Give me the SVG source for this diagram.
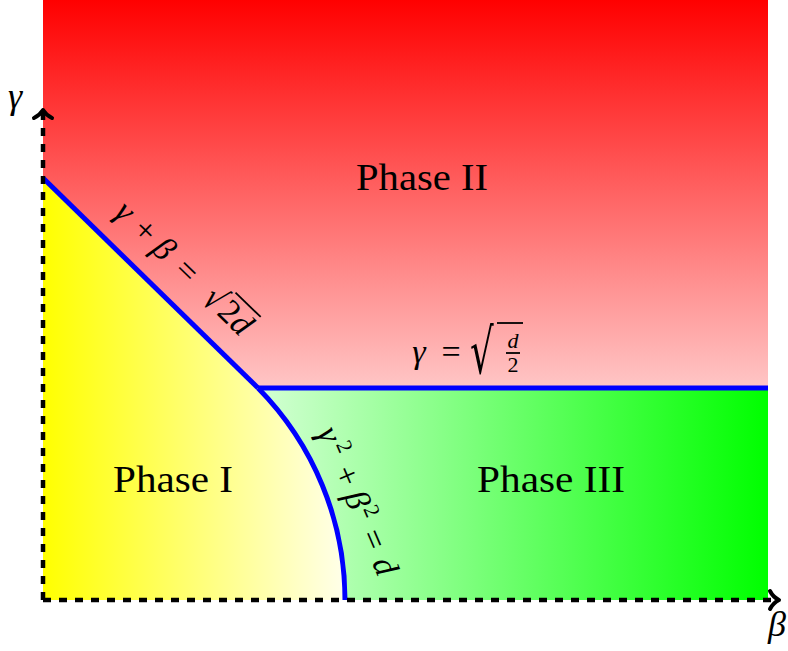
<svg xmlns="http://www.w3.org/2000/svg" width="788" height="651" viewBox="0 0 788 651">
<defs>
<linearGradient id="gRed" x1="0" y1="0" x2="0" y2="1">
<stop offset="0" stop-color="#ff0000"/>
<stop offset="1" stop-color="#ffc6c6"/>
</linearGradient>
<linearGradient id="gYel" gradientUnits="userSpaceOnUse" x1="43" y1="0" x2="345" y2="0">
<stop offset="0" stop-color="#ffff00"/>
<stop offset="1" stop-color="#ffffea"/>
</linearGradient>
<linearGradient id="gGrn" gradientUnits="userSpaceOnUse" x1="258" y1="0" x2="768" y2="0">
<stop offset="0" stop-color="#d4ffd4"/>
<stop offset="1" stop-color="#00ff00"/>
</linearGradient>
<style>
.t{font-family:"Liberation Serif","DejaVu Serif",serif;fill:#000}
.it{font-style:italic}
.rad{font-family:"DejaVu Serif",serif;fill:#000}
.ph{font-size:38px;text-anchor:middle}
.m{font-size:34px;text-anchor:middle}
.s{font-size:22px;text-anchor:middle}
.axis{fill:none;stroke:#000;stroke-width:4.5;stroke-dasharray:8 8}
.head{fill:none;stroke:#000;stroke-width:4;stroke-linecap:round;stroke-linejoin:round}
.bnd{fill:none;stroke:#0000ff;stroke-width:5}
.bar{stroke:#000;stroke-width:1.8}
</style>
</defs>
<g id="regions">
<rect id="phase2-region" x="43" y="0" width="725" height="388" fill="url(#gRed)"/>
<rect id="phase3-region" x="258" y="388" width="510" height="212" fill="url(#gGrn)"/>
<path id="phase1-region" d="M43 178 L258 388 A302 302 0 0 1 345 600 L43 600 Z" fill="url(#gYel)"/>
</g>
<g id="connectors">
<path class="bnd" d="M43 178 L258 388"/>
<path class="bnd" d="M258 388 L768 388"/>
<path class="bnd" d="M258 388 A302 302 0 0 1 345 600"/>
<path class="axis" d="M43 600 L43 112"/>
<path class="axis" d="M43 600 L778 600"/>
<path class="head" d="M34 118 Q40 115 43 110 Q46 115 52 118"/>
<path class="head" d="M770 591 Q773 597 779 600 Q773 603 770 609"/>
</g>
<g id="axis-labels">
<text class="t it" x="8" y="108" font-size="36">γ</text>
<text class="t it" x="768" y="636" font-size="36">β</text>
</g>
<g id="phase-labels">
<text class="t ph" x="422" y="190" textLength="132" lengthAdjust="spacingAndGlyphs">Phase II</text>
<text class="t ph" x="173" y="492" textLength="120" lengthAdjust="spacingAndGlyphs">Phase I</text>
<text class="t ph" x="551" y="492" textLength="148" lengthAdjust="spacingAndGlyphs">Phase III</text>
</g>
<g id="label-line" transform="translate(187,268) rotate(44)">
<text class="t m it" x="-84" y="13">γ</text>
<text class="t m" x="-56" y="13">+</text>
<text class="t m it" x="-30" y="13">β</text>
<text class="t m" x="2" y="13">=</text>
<text class="rad" x="33" y="15" font-size="36" transform="translate(33,15) scale(0.75,1) translate(-33,-15)">√</text>
<line class="bar" x1="52" y1="-16" x2="87" y2="-16"/>
<text class="t m" x="61" y="13">2</text>
<text class="t m it" x="78" y="13">d</text>
</g>
<g id="label-circle" transform="translate(357,502) rotate(67)">
<text class="t m it" x="-73" y="10">γ</text>
<text class="t s" x="-56" y="-3">2</text>
<text class="t m" x="-28" y="10">+</text>
<text class="t m it" x="-2" y="10">β</text>
<text class="t s" x="14" y="-3">2</text>
<text class="t m" x="41" y="10">=</text>
<text class="t m it" x="70" y="10">d</text>
</g>
<g id="label-horizontal">
<text class="t m it" x="419" y="363">γ</text>
<text class="t m" x="451" y="363">=</text>
<text class="rad" x="470" y="373" font-size="62" transform="translate(470,373) scale(0.6,1) translate(-470,-373)">√</text>
<line class="bar" x1="497" y1="323" x2="523" y2="323"/>
<text class="t s it" x="513" y="348">d</text>
<line class="bar" x1="506" y1="353" x2="520" y2="353"/>
<text class="t s" x="513" y="372">2</text>
</g>
</svg>
